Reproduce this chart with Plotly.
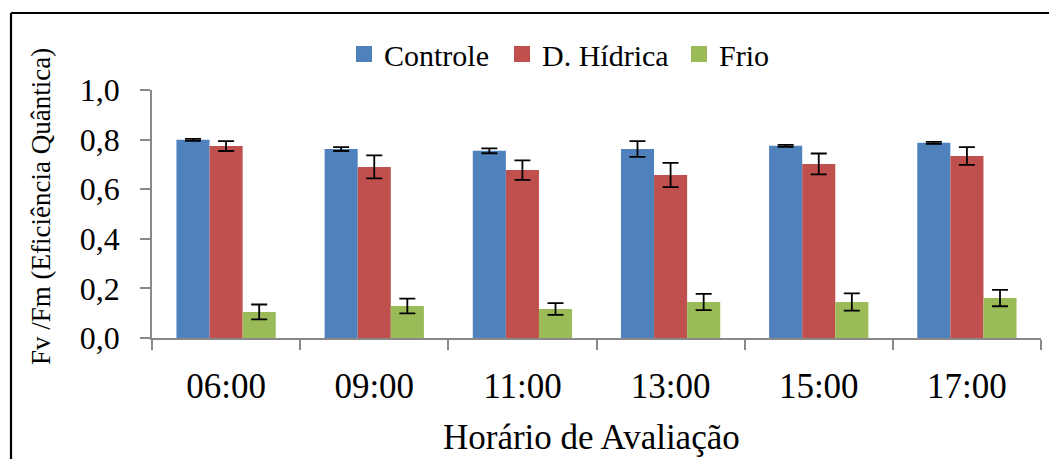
import plotly.graph_objects as go

categories = ["06:00", "09:00", "11:00", "13:00", "15:00", "17:00"]
controle = [0.799, 0.762, 0.755, 0.762, 0.775, 0.787]
controle_err = [0.004, 0.008, 0.010, 0.032, 0.004, 0.004]
d_hidrica = [0.774, 0.690, 0.677, 0.657, 0.702, 0.734]
d_hidrica_err = [0.020, 0.046, 0.039, 0.049, 0.042, 0.036]
frio = [0.105, 0.129, 0.117, 0.145, 0.145, 0.161]
frio_err = [0.030, 0.030, 0.024, 0.033, 0.035, 0.033]

series = [
    ("Controle", controle, controle_err, "#4F81BD", 113),
    ("D. Hídrica", d_hidrica, d_hidrica_err, "#C0504D", 132),
    ("Frio", frio, frio_err, "#9BBB59", 119),
]

FONT = "Liberation Serif"

fig = go.Figure()
for name, vals, errs, color, lw in series:
    fig.add_trace(go.Bar(
        x=categories, y=vals, name=name, marker_color=color,
        marker_line_width=0, showlegend=False,
        error_y=dict(type="data", array=errs, visible=True,
                     color="black", thickness=1.8, width=8),
    ))
for name, vals, errs, color, lw in series:
    fig.add_trace(go.Scatter(
        x=[None], y=[None], mode="markers", name=name, legendwidth=lw,
        marker=dict(symbol="square", size=18, color=color),
    ))

fig.update_layout(
    width=1049, height=459,
    margin=dict(l=152, r=8, t=90, b=121, autoexpand=False),
    paper_bgcolor="white", plot_bgcolor="white",
    separators=",.",
    barmode="group", bargap=0.33, bargroupgap=0,
    font=dict(family=FONT, color="black"),
    legend=dict(orientation="h", x=(344 - 152) / 889, xanchor="left",
                y=(338 - 54) / 248, yanchor="middle",
                entrywidthmode="pixels",
                font=dict(size=30, family=FONT),
                bgcolor="rgba(0,0,0,0)", itemclick=False),
    xaxis=dict(
        type="category", tickson="boundaries", ticks="outside", ticklen=10,
        tickcolor="#898989", tickwidth=1.5, showline=True, linecolor="#898989",
        linewidth=1.5, showgrid=False, tickfont=dict(size=35, family=FONT),
        ticklabelstandoff=16, automargin=False,
    ),
    yaxis=dict(
        range=[0, 1], dtick=0.2, tickformat=".1f", ticks="outside", ticklen=10,
        tickcolor="#898989", tickwidth=1.5, showline=True, linecolor="#898989",
        linewidth=1.5, showgrid=False, zeroline=False,
        tickfont=dict(size=32, family=FONT), ticklabelstandoff=14,
        automargin=False,
    ),
    annotations=[
        dict(text="Fv /Fm (Eficiência Quântica)", xref="paper", yref="paper",
             x=(41 - 152) / 889, y=(338 - 207) / 248, textangle=-90,
             xanchor="center", yanchor="middle", showarrow=False,
             font=dict(size=27, family=FONT)),
        dict(text="Horário de Avaliação", xref="paper", yref="paper",
             x=(591 - 152) / 889, y=(338 - 437) / 248,
             xanchor="center", yanchor="middle", showarrow=False,
             font=dict(size=35, family=FONT)),
    ],
    shapes=[
        dict(type="line", xref="paper", yref="paper",
             x0=(11 - 152) / 889, x1=(1060 - 152) / 889,
             y0=(338 - 13) / 248, y1=(338 - 13) / 248,
             line=dict(color="black", width=2.2)),
        dict(type="line", xref="paper", yref="paper",
             x0=(11 - 152) / 889, x1=(11 - 152) / 889,
             y0=(338 - 13) / 248, y1=(338 - 470) / 248,
             line=dict(color="black", width=2.2)),
    ],
)

fig.write_html("out.html",
               config={"displayModeBar": False},
               post_script="document.body.style.margin='0';"
                           "document.body.style.overflow='hidden';")
